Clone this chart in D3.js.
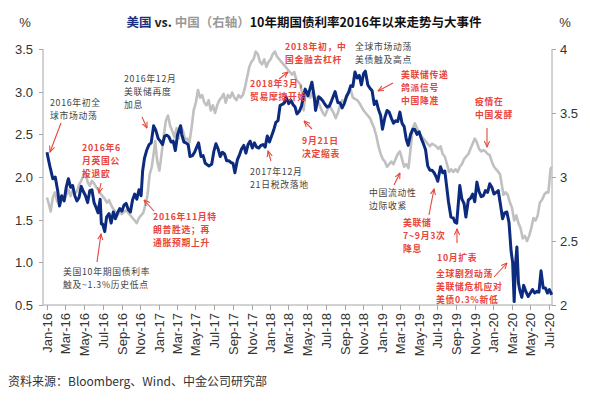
<!DOCTYPE html>
<html><head><meta charset="utf-8">
<script src="https://cdn.jsdelivr.net/npm/d3@7/dist/d3.min.js"></script>
<style>body{margin:0;background:#fff}svg{display:block}</style>
</head><body>
<svg id="chart" width="590" height="405"></svg>
<script>
// ---------- DATA ----------
const usYield = [
["2016-01-01",2.29],["2016-01-06",2.20],["2016-01-12",2.10],["2016-01-20",1.98],["2016-01-28",2.00],
["2016-02-05",1.84],["2016-02-11",1.66],["2016-02-18",1.78],["2016-02-26",1.72],["2016-03-04",1.88],
["2016-03-11",1.98],["2016-03-18",1.88],["2016-03-25",1.90],["2016-04-01",1.78],["2016-04-08",1.72],
["2016-04-15",1.76],["2016-04-22",1.89],["2016-04-29",1.83],["2016-05-06",1.78],["2016-05-13",1.70],
["2016-05-20",1.84],["2016-05-27",1.85],["2016-06-03",1.70],["2016-06-10",1.64],["2016-06-16",1.58],
["2016-06-23",1.74],["2016-06-27",1.45],["2016-07-01",1.45],["2016-07-08",1.36],["2016-07-14",1.53],
["2016-07-22",1.57],["2016-07-29",1.46],["2016-08-05",1.59],["2016-08-12",1.51],["2016-08-19",1.58],
["2016-08-26",1.63],["2016-09-02",1.60],["2016-09-09",1.67],["2016-09-16",1.69],["2016-09-23",1.62],
["2016-09-30",1.59],["2016-10-07",1.73],["2016-10-14",1.80],["2016-10-21",1.74],["2016-10-28",1.85],
["2016-11-04",1.78],["2016-11-09",2.07],["2016-11-15",2.22],["2016-11-22",2.31],["2016-11-30",2.38],
["2016-12-07",2.40],["2016-12-15",2.60],["2016-12-22",2.55],["2016-12-30",2.45],["2017-01-06",2.42],
["2017-01-13",2.38],["2017-01-20",2.48],["2017-01-27",2.49],["2017-02-03",2.47],["2017-02-10",2.41],
["2017-02-17",2.42],["2017-02-24",2.31],["2017-03-03",2.49],["2017-03-13",2.60],["2017-03-17",2.50],
["2017-03-24",2.41],["2017-03-31",2.40],["2017-04-07",2.38],["2017-04-13",2.24],["2017-04-21",2.25],
["2017-04-28",2.29],["2017-05-05",2.35],["2017-05-11",2.40],["2017-05-19",2.24],["2017-05-26",2.25],
["2017-06-02",2.16],["2017-06-14",2.13],["2017-06-23",2.15],["2017-06-30",2.30],["2017-07-07",2.39],
["2017-07-14",2.33],["2017-07-21",2.24],["2017-07-28",2.29],["2017-08-04",2.27],["2017-08-11",2.19],
["2017-08-18",2.19],["2017-08-25",2.17],["2017-09-01",2.16],["2017-09-07",2.05],["2017-09-15",2.20],
["2017-09-22",2.26],["2017-09-29",2.33],["2017-10-06",2.37],["2017-10-13",2.28],["2017-10-20",2.38],
["2017-10-27",2.42],["2017-11-03",2.34],["2017-11-10",2.40],["2017-11-17",2.35],["2017-11-24",2.34],
["2017-12-01",2.37],["2017-12-08",2.38],["2017-12-15",2.35],["2017-12-22",2.48],["2017-12-29",2.41],
["2018-01-05",2.48],["2018-01-12",2.55],["2018-01-19",2.64],["2018-01-26",2.66],["2018-02-02",2.84],
["2018-02-09",2.85],["2018-02-16",2.87],["2018-02-21",2.94],["2018-03-02",2.86],["2018-03-09",2.90],
["2018-03-16",2.85],["2018-03-23",2.82],["2018-03-29",2.74],["2018-04-06",2.77],["2018-04-13",2.83],
["2018-04-20",2.96],["2018-04-25",3.03],["2018-05-04",2.95],["2018-05-17",3.11],["2018-05-25",2.93],
["2018-05-29",2.78],["2018-06-08",2.94],["2018-06-15",2.92],["2018-06-22",2.89],["2018-06-29",2.85],
["2018-07-06",2.82],["2018-07-13",2.83],["2018-07-20",2.89],["2018-08-01",3.00],["2018-08-10",2.87],
["2018-08-17",2.87],["2018-08-24",2.81],["2018-08-31",2.86],["2018-09-07",2.94],["2018-09-14",2.99],
["2018-09-21",3.07],["2018-09-28",3.06],["2018-10-05",3.23],["2018-10-12",3.16],["2018-10-19",3.19],
["2018-10-26",3.08],["2018-11-02",3.21],["2018-11-08",3.24],["2018-11-16",3.08],["2018-11-23",3.04],
["2018-11-30",3.01],["2018-12-07",2.85],["2018-12-14",2.89],["2018-12-21",2.79],["2018-12-28",2.72],
["2019-01-03",2.56],["2019-01-11",2.70],["2019-01-18",2.78],["2019-01-25",2.76],["2019-02-01",2.69],
["2019-02-08",2.63],["2019-02-15",2.66],["2019-02-22",2.65],["2019-03-01",2.76],["2019-03-08",2.63],
["2019-03-15",2.59],["2019-03-22",2.44],["2019-03-28",2.37],["2019-04-05",2.50],["2019-04-12",2.56],
["2019-04-18",2.56],["2019-04-26",2.50],["2019-05-03",2.53],["2019-05-10",2.45],["2019-05-17",2.39],
["2019-05-24",2.32],["2019-05-31",2.13],["2019-06-07",2.08],["2019-06-14",2.08],["2019-06-21",2.05],
["2019-06-28",2.00],["2019-07-03",1.95],["2019-07-12",2.12],["2019-07-19",2.05],["2019-07-26",2.07],
["2019-08-01",1.89],["2019-08-07",1.71],["2019-08-15",1.53],["2019-08-23",1.52],["2019-08-28",1.47],
["2019-09-03",1.46],["2019-09-13",1.90],["2019-09-20",1.74],["2019-09-27",1.69],["2019-10-03",1.53],
["2019-10-11",1.73],["2019-10-18",1.75],["2019-10-25",1.80],["2019-11-01",1.71],["2019-11-08",1.94],
["2019-11-15",1.83],["2019-11-22",1.77],["2019-11-29",1.78],["2019-12-06",1.84],["2019-12-13",1.82],
["2019-12-20",1.92],["2019-12-27",1.88],["2020-01-03",1.80],["2020-01-10",1.82],["2020-01-17",1.84],
["2020-01-24",1.68],["2020-01-31",1.51],["2020-02-07",1.58],["2020-02-14",1.59],["2020-02-21",1.47],
["2020-02-28",1.13],["2020-03-04",1.00],["2020-03-09",0.54],["2020-03-13",0.96],["2020-03-18",1.18],
["2020-03-23",0.76],["2020-03-27",0.68],["2020-04-03",0.59],["2020-04-09",0.73],["2020-04-17",0.65],
["2020-04-24",0.60],["2020-05-01",0.64],["2020-05-08",0.68],["2020-05-15",0.64],["2020-05-22",0.66],
["2020-05-29",0.65],["2020-06-05",0.90],["2020-06-12",0.70],["2020-06-19",0.70],["2020-06-26",0.64],
["2020-07-02",0.68],["2020-07-10",0.62]
];

const cnYield = [
["2016-01-01",2.84],["2016-01-08",2.78],["2016-01-13",2.73],["2016-01-20",2.84],["2016-01-27",2.88],
["2016-02-03",2.81],["2016-02-12",2.78],["2016-02-19",2.84],["2016-02-26",2.82],["2016-03-04",2.86],
["2016-03-11",2.90],["2016-03-18",2.85],["2016-03-25",2.90],["2016-04-01",2.87],["2016-04-08",2.89],
["2016-04-15",2.94],["2016-04-22",2.97],["2016-04-29",3.01],["2016-05-06",3.04],["2016-05-13",2.96],
["2016-05-20",2.93],["2016-05-27",2.97],["2016-06-03",2.95],["2016-06-10",2.92],["2016-06-17",2.90],
["2016-06-24",2.87],["2016-07-01",2.85],["2016-07-08",2.83],["2016-07-15",2.80],["2016-07-22",2.82],
["2016-07-29",2.78],["2016-08-05",2.75],["2016-08-12",2.73],["2016-08-19",2.70],["2016-08-26",2.73],
["2016-09-02",2.71],["2016-09-09",2.73],["2016-09-16",2.74],["2016-09-23",2.72],["2016-09-30",2.70],
["2016-10-07",2.68],["2016-10-14",2.66],["2016-10-21",2.64],["2016-10-28",2.68],["2016-11-04",2.70],
["2016-11-11",2.72],["2016-11-18",2.78],["2016-11-25",2.86],["2016-12-02",3.02],["2016-12-09",3.08],
["2016-12-16",3.20],["2016-12-20",3.28],["2016-12-27",3.12],["2017-01-03",3.05],["2017-01-10",3.18],
["2017-01-17",3.32],["2017-01-24",3.44],["2017-01-31",3.48],["2017-02-07",3.40],["2017-02-14",3.36],
["2017-02-21",3.31],["2017-02-28",3.38],["2017-03-07",3.30],["2017-03-14",3.40],["2017-03-21",3.36],
["2017-03-28",3.29],["2017-04-04",3.30],["2017-04-11",3.27],["2017-04-18",3.38],["2017-04-25",3.52],
["2017-05-02",3.58],["2017-05-09",3.68],["2017-05-16",3.62],["2017-05-23",3.64],["2017-05-30",3.58],
["2017-06-06",3.56],["2017-06-13",3.60],["2017-06-20",3.52],["2017-06-27",3.56],["2017-07-04",3.50],
["2017-07-11",3.56],["2017-07-18",3.60],["2017-07-25",3.62],["2017-08-01",3.65],["2017-08-08",3.58],
["2017-08-15",3.64],["2017-08-22",3.62],["2017-08-29",3.66],["2017-09-05",3.62],["2017-09-12",3.60],
["2017-09-19",3.64],["2017-09-26",3.62],["2017-10-03",3.64],["2017-10-10",3.70],["2017-10-17",3.78],
["2017-10-24",3.86],["2017-10-31",3.90],["2017-11-07",3.92],["2017-11-14",3.98],["2017-11-21",3.96],
["2017-11-28",3.90],["2017-12-05",3.88],["2017-12-12",3.92],["2017-12-19",3.86],["2017-12-26",3.90],
["2018-01-02",3.92],["2018-01-09",3.96],["2018-01-16",3.98],["2018-01-23",3.94],["2018-01-30",3.92],
["2018-02-06",3.90],["2018-02-13",3.88],["2018-02-20",3.86],["2018-02-27",3.84],["2018-03-06",3.82],
["2018-03-13",3.80],["2018-03-20",3.82],["2018-03-27",3.76],["2018-04-03",3.74],["2018-04-10",3.72],
["2018-04-17",3.62],["2018-04-20",3.52],["2018-04-27",3.68],["2018-05-04",3.66],["2018-05-11",3.62],
["2018-05-18",3.66],["2018-05-25",3.60],["2018-06-01",3.62],["2018-06-08",3.58],["2018-06-15",3.54],
["2018-06-22",3.50],["2018-06-29",3.48],["2018-07-06",3.52],["2018-07-13",3.56],["2018-07-20",3.53],
["2018-07-27",3.50],["2018-08-03",3.46],["2018-08-10",3.50],["2018-08-17",3.56],["2018-08-24",3.60],
["2018-08-31",3.58],["2018-09-07",3.64],["2018-09-14",3.66],["2018-09-21",3.68],["2018-09-28",3.62],
["2018-10-12",3.60],["2018-10-19",3.58],["2018-10-26",3.55],["2018-11-02",3.52],["2018-11-09",3.50],
["2018-11-16",3.48],["2018-11-23",3.46],["2018-11-30",3.42],["2018-12-07",3.38],["2018-12-14",3.32],
["2018-12-21",3.24],["2018-12-28",3.18],["2019-01-04",3.14],["2019-01-11",3.12],["2019-01-18",3.08],
["2019-01-25",3.10],["2019-02-01",3.12],["2019-02-08",3.10],["2019-02-15",3.14],["2019-02-22",3.18],
["2019-03-01",3.20],["2019-03-08",3.14],["2019-03-15",3.08],["2019-03-22",3.10],["2019-03-29",3.07],
["2019-04-05",3.22],["2019-04-12",3.38],["2019-04-19",3.42],["2019-04-26",3.38],["2019-05-03",3.34],
["2019-05-10",3.32],["2019-05-17",3.30],["2019-05-24",3.28],["2019-05-31",3.26],["2019-06-07",3.24],
["2019-06-14",3.26],["2019-06-21",3.25],["2019-06-28",3.24],["2019-07-05",3.22],["2019-07-12",3.24],
["2019-07-19",3.18],["2019-07-26",3.16],["2019-08-02",3.10],["2019-08-09",3.04],["2019-08-16",3.06],
["2019-08-23",3.04],["2019-08-30",3.06],["2019-09-06",3.04],["2019-09-13",3.08],["2019-09-20",3.10],
["2019-09-27",3.14],["2019-10-04",3.16],["2019-10-11",3.18],["2019-10-18",3.22],["2019-10-25",3.26],
["2019-11-01",3.30],["2019-11-08",3.27],["2019-11-15",3.22],["2019-11-22",3.20],["2019-11-29",3.21],
["2019-12-06",3.20],["2019-12-13",3.18],["2019-12-20",3.17],["2019-12-27",3.12],["2020-01-03",3.08],
["2020-01-10",3.06],["2020-01-17",3.04],["2020-01-23",3.02],["2020-02-03",2.86],["2020-02-10",2.88],
["2020-02-17",2.86],["2020-02-24",2.80],["2020-03-02",2.76],["2020-03-09",2.66],["2020-03-16",2.70],
["2020-03-23",2.64],["2020-03-30",2.60],["2020-04-06",2.52],["2020-04-13",2.54],["2020-04-20",2.50],
["2020-04-27",2.54],["2020-05-04",2.60],["2020-05-11",2.68],["2020-05-18",2.66],["2020-05-25",2.70],
["2020-06-01",2.80],["2020-06-08",2.82],["2020-06-15",2.86],["2020-06-22",2.88],["2020-06-29",2.88],
["2020-07-06",3.06],["2020-07-10",3.08]
];

const xTickLabels = ["Jan-16","Mar-16","May-16","Jul-16","Sep-16","Nov-16","Jan-17","Mar-17","May-17","Jul-17",
"Sep-17","Nov-17","Jan-18","Mar-18","May-18","Jul-18","Sep-18","Nov-18","Jan-19","Mar-19","May-19","Jul-19",
"Sep-19","Nov-19","Jan-20","Mar-20","May-20","Jul-20"];
const leftTicks = ["0.5","1.0","1.5","2.0","2.5","3.0","3.5"];
const rightTicks = ["2","2.5","3","3.5","4"];

const titleParts = [
  {t:"美国", c:"#1a2f80"},
  {t:" vs. ", c:"#222"},
  {t:"中国（右轴）", c:"#9a9a9a"},
  {t:"10年期国债利率2016年以来走势与大事件", c:"#111"}
];
const sourceText = "资料来源：Bloomberg、Wind、中金公司研究部";

const RED = "#e8453c", GREY_TXT = "#444";
const annotations = [
  {lines:["2016年初全","球市场动荡"], x:50, y:103, c:GREY_TXT, b:false, arrow:[61,123,50,152]},
  {lines:["2016年6","月英国公","投退欧"], x:82, y:148, c:RED, b:true, arrow:[101,183,99,193]},
  {lines:["2016年12月","美联储再度","加息"], x:124, y:79, c:GREY_TXT, b:false, arrow:[142,117,147,128]},
  {lines:["2016年11月特","朗普胜选；再","通胀预期上升"], x:153, y:217, c:RED, b:true, arrow:[154,211,144,200]},
  {lines:["美国10年期国债利率","触及~1.3%历史低点"], x:63, y:272, c:GREY_TXT, b:false, arrow:[97,262,101,234]},
  {lines:["2017年12月","21日税改落地"], x:250, y:172, c:GREY_TXT, b:false, arrow:[271,161,268,151]},
  {lines:["2018年初，中","国金融去杠杆"], x:285, y:47, c:RED, b:true},
  {lines:["2018年3月，","贸易摩擦开始"], x:250, y:84, c:RED, b:true, arrow:[279,79,288,72]},
  {lines:["9月21日","决定缩表"], x:302, y:141, c:RED, b:true, arrow:[312,129,304,121]},
  {lines:["全球市场动荡","美债触及高点"], x:355, y:47, c:GREY_TXT, b:false},
  {lines:["美联储传递","鸽派信号","中国降准"], x:401, y:75, c:RED, b:true, arrow:[393,83,378,91]},
  {lines:["疫情在","中国发酵"], x:475, y:102, c:RED, b:true, arrow:[487,128,487,147]},
  {lines:["中国流动性","边际收紧"], x:369, y:193, c:GREY_TXT, b:false, arrow:[394,185,400,173]},
  {lines:["美联储","7~9月3次","降息"], x:403, y:223, c:RED, b:true, arrow:[429,215,434,189]},
  {lines:["10月扩表"], x:437, y:258, c:RED, b:true, arrow:[457,243,457,229]},
  {lines:["全球剧烈动荡","美联储危机应对","美债0.3%新低"], x:436, y:274, c:RED, b:true, arrow:[494,277,507,263]}
];

// ---------- LAYOUT ----------
const svg = d3.select("#chart");
const plot = {left:43, right:552, top:49, bottom:305};
const parse = d3.timeParse("%Y-%m-%d");
const parseTick = d3.timeParse("%b-%y");

const x = d3.scaleTime()
  .domain([parse("2016-01-01"), parse("2020-07-01")])
  .range([47, 549]);
const yL = d3.scaleLinear().domain([0.5, 3.5]).range([plot.bottom, plot.top]);
const yR = d3.scaleLinear().domain([2, 4]).range([plot.bottom, plot.top]);

const axisColor = "#a6a6a6";
const tickFont = "'Liberation Sans', Arial, sans-serif";
const cjk = "'Noto Sans CJK SC', 'Noto Sans', sans-serif";

// axes lines
svg.append("line").attr("x1",plot.left).attr("x2",plot.left).attr("y1",plot.top).attr("y2",plot.bottom)
  .attr("stroke",axisColor).attr("stroke-width",1);
svg.append("line").attr("x1",plot.right).attr("x2",plot.right).attr("y1",plot.top).attr("y2",plot.bottom)
  .attr("stroke",axisColor).attr("stroke-width",1);
svg.append("line").attr("x1",plot.left).attr("x2",plot.right).attr("y1",plot.bottom).attr("y2",plot.bottom)
  .attr("stroke",axisColor).attr("stroke-width",1);

// left ticks
leftTicks.forEach(t => {
  const yy = Math.round(yL(+t)) + 0.5;
  svg.append("line").attr("x1",plot.left-4).attr("x2",plot.left).attr("y1",yy).attr("y2",yy).attr("stroke",axisColor);
  svg.append("text").attr("x",33).attr("y",yy).attr("dy","0.35em").attr("text-anchor","end")
    .attr("font-family",tickFont).attr("font-size",13).attr("fill","#333").text(t);
});
// right ticks
rightTicks.forEach(t => {
  const yy = Math.round(yR(+t)) + 0.5;
  svg.append("line").attr("x1",plot.right).attr("x2",plot.right+4).attr("y1",yy).attr("y2",yy).attr("stroke",axisColor);
  svg.append("text").attr("x",560).attr("y",yy).attr("dy","0.35em").attr("text-anchor","start")
    .attr("font-family",tickFont).attr("font-size",13).attr("fill","#333").text(t);
});
// bottom ticks
xTickLabels.forEach(lbl => {
  const xx = Math.round(x(parseTick(lbl))) + 0.5;
  svg.append("line").attr("x1",xx).attr("x2",xx).attr("y1",plot.bottom).attr("y2",plot.bottom+5).attr("stroke",axisColor);
  svg.append("text").attr("transform",`translate(${xx},${plot.bottom+8}) rotate(-90)`)
    .attr("dy","0.35em").attr("text-anchor","end")
    .attr("font-family",tickFont).attr("font-size",13).attr("fill","#333").text(lbl);
});

// unit labels
svg.append("text").attr("x",25).attr("y",27).attr("text-anchor","middle").attr("font-family",tickFont)
  .attr("font-size",13).attr("fill","#333").text("%");
svg.append("text").attr("x",565).attr("y",27).attr("text-anchor","middle").attr("font-family",tickFont)
  .attr("font-size",13).attr("fill","#333").text("%");

// title
const title = svg.append("text").attr("x",304).attr("y",27).attr("text-anchor","middle")
  .attr("font-family",cjk).attr("font-size",12.5).attr("font-weight","bold");
titleParts.forEach(p => title.append("tspan").attr("fill",p.c).text(p.t));

// lines
const lineCn = d3.line().x(d => x(parse(d[0]))).y(d => yR(d[1]));
const lineUs = d3.line().x(d => x(parse(d[0]))).y(d => yL(d[1]));
svg.append("path").datum(cnYield).attr("d",lineCn).attr("fill","none")
  .attr("stroke","#c0c0c0").attr("stroke-width",2.6).attr("stroke-linejoin","round");
svg.append("path").datum(usYield).attr("d",lineUs).attr("fill","none")
  .attr("stroke","#0c2a7e").attr("stroke-width",3).attr("stroke-linejoin","round");

// arrow marker
const defs = svg.append("defs");
defs.append("marker").attr("id","ah").attr("viewBox","0 0 10 10").attr("refX",9).attr("refY",5)
  .attr("markerWidth",6).attr("markerHeight",6).attr("orient","auto-start-reverse")
  .append("path").attr("d","M0,1 L9,5 L0,9").attr("fill","none").attr("stroke",RED).attr("stroke-width",1.6);

// annotations: one text element per line
annotations.forEach(a => {
  a.lines.forEach((ln,i) => {
    svg.append("text").attr("x",a.x).attr("y",a.y + i*12.8).attr("dy","0.35em")
      .attr("font-family",cjk).attr("font-size",8.8).attr("letter-spacing",0.7)
      .attr("font-weight",a.b ? "bold" : "normal").attr("fill",a.c).text(ln);
  });
  if (a.arrow) {
    svg.append("line").attr("x1",a.arrow[0]).attr("y1",a.arrow[1]).attr("x2",a.arrow[2]).attr("y2",a.arrow[3])
      .attr("stroke",RED).attr("stroke-width",1.1).attr("marker-end","url(#ah)");
  }
});

// source
svg.append("text").attr("x",8).attr("y",386).attr("font-family",cjk).attr("font-size",12)
  .attr("fill","#333").text(sourceText);
</script>
</body></html>
